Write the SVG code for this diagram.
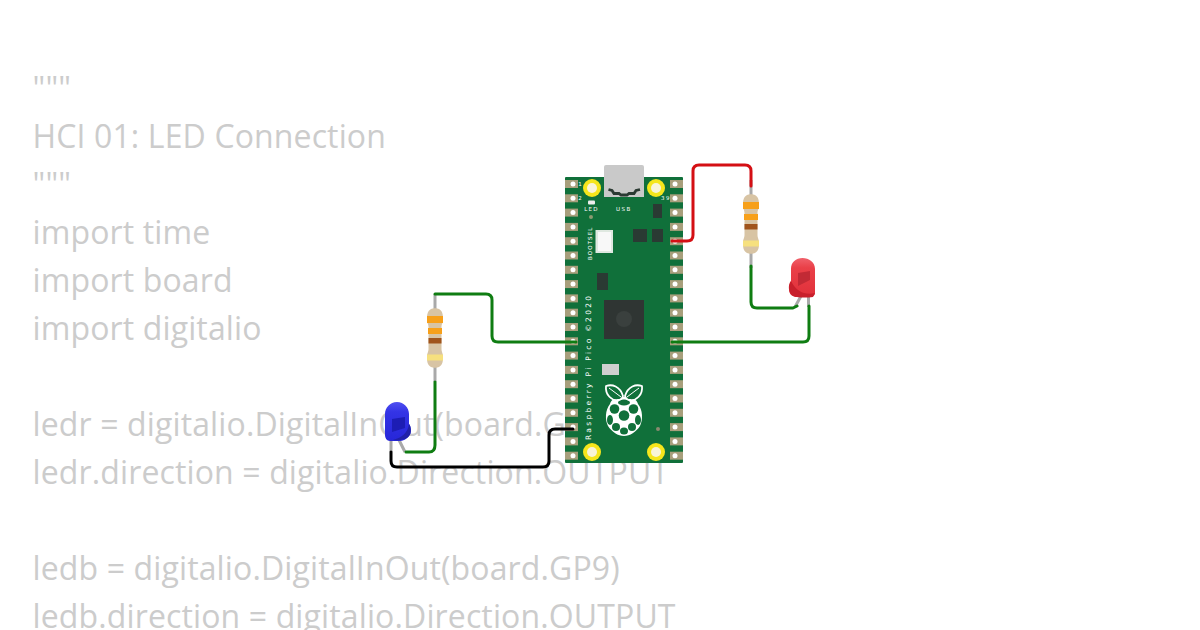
<svg xmlns="http://www.w3.org/2000/svg" width="1200" height="630" viewBox="0 0 1200 630">
<style>
.code{font-family:"Open Sans","Liberation Sans",sans-serif;font-size:32px;fill:#cccccc;letter-spacing:.13px}
.silk{font-family:"DejaVu Sans","Liberation Sans",sans-serif;fill:#ffffff}
.wire{fill:none;stroke-width:3;stroke-linejoin:round;stroke-linecap:round}
.lead{fill:none;stroke:#a9a9a9;stroke-width:3}
.hole{fill:#f5e61c;stroke:none}
.ic{fill:#2a3a33}
</style>
<defs>
<g id="pinL"><rect x="0" y="-4" width="13" height="8" fill="#a89f7c"/><circle cx="8" cy="0" r="2.500" fill="#ffffff"/></g>
<g id="pinR"><rect x="-13" y="-4" width="13" height="8" fill="#a89f7c"/><circle cx="-8" cy="0" r="2.500" fill="#ffffff"/></g>
<g id="resistor">
<path d="M0 -44V-27M0 27V44" stroke="#a9a9a9" stroke-width="3" fill="none"/>
<path d="M-4 -29C-2 -30 2 -30 4 -29C8 -27 8 -22 8 -19C8 -15 6.500 -14 6.500 -11V11C6.500 14 8 15 8 19C8 22 8 27 4 29C2 30 -2 30 -4 29C-8 27 -8 22 -8 19C-8 15 -6.500 14 -6.500 11V-11C-6.500 -14 -8 -15 -8 -19C-8 -22 -8 -27 -4 -29Z" fill="#d8c4a4"/>
<rect x="-8" y="-22" width="16" height="7" fill="#f7a01a"/>
<rect x="-7" y="-10" width="14" height="6" fill="#f7a01a"/>
<rect x="-6.500" y="0" width="13" height="5.500" fill="#a0541c"/>
<rect x="-8" y="16.500" width="16" height="6" fill="#f6e07e"/>
</g>
<linearGradient id="redDome" x1="0" y1="0" x2="0" y2="1"><stop offset="0" stop-color="#f0606a"/><stop offset=".25" stop-color="#ea4048"/><stop offset="1" stop-color="#e0303a"/></linearGradient>
<linearGradient id="blueDome" x1="0" y1="0" x2="0" y2="1"><stop offset="0" stop-color="#5050f0"/><stop offset=".25" stop-color="#3434e6"/><stop offset="1" stop-color="#2626d8"/></linearGradient>
</defs>

<g id="code" opacity=".99">
<text class="code" x="32.500" y="100">"""</text>
<text class="code" x="32.500" y="148">HCI 01: LED Connection</text>
<text class="code" x="32.500" y="196">"""</text>
<text class="code" x="32.500" y="244">import time</text>
<text class="code" x="32.500" y="292">import board</text>
<text class="code" x="32.500" y="340">import digitalio</text>
<text class="code" x="32.500" y="436">ledr = digitalio.DigitalInOut(board.GP1)</text>
<text class="code" x="32.500" y="484">ledr.direction = digitalio.Direction.OUTPUT</text>
<text class="code" x="32.500" y="580">ledb = digitalio.DigitalInOut(board.GP9)</text>
<text class="code" x="32.500" y="628">ledb.direction = digitalio.Direction.OUTPUT</text>
</g>

<g id="pico">
<rect x="565" y="177" width="118" height="286" rx="1" fill="#10703a"/>
<path d="M606 165H642Q644 165 644 167V197H604V167Q604 165 606 165Z" fill="#c9c9c9"/>
<path d="M608.500 189.500L612 190.500L614 193.500H619L621 195H627L629 193.500H634L636 190.500L640 189.500" fill="none" stroke="#2b3a33" stroke-width="2.800"/>
<g id="pins-left">
<use href="#pinL" x="565" y="184"/><use href="#pinL" x="565" y="198.300"/><use href="#pinL" x="565" y="212.600"/><use href="#pinL" x="565" y="226.900"/><use href="#pinL" x="565" y="241.200"/><use href="#pinL" x="565" y="255.500"/><use href="#pinL" x="565" y="269.800"/><use href="#pinL" x="565" y="284.100"/><use href="#pinL" x="565" y="298.400"/><use href="#pinL" x="565" y="312.700"/><use href="#pinL" x="565" y="327"/><use href="#pinL" x="565" y="341.300"/><use href="#pinL" x="565" y="355.600"/><use href="#pinL" x="565" y="369.900"/><use href="#pinL" x="565" y="384.200"/><use href="#pinL" x="565" y="398.500"/><use href="#pinL" x="565" y="412.800"/><use href="#pinL" x="565" y="427.100"/><use href="#pinL" x="565" y="441.400"/><use href="#pinL" x="565" y="455.700"/>
</g>
<g id="pins-right">
<use href="#pinR" x="683" y="184"/><use href="#pinR" x="683" y="198.300"/><use href="#pinR" x="683" y="212.600"/><use href="#pinR" x="683" y="226.900"/><use href="#pinR" x="683" y="241.200"/><use href="#pinR" x="683" y="255.500"/><use href="#pinR" x="683" y="269.800"/><use href="#pinR" x="683" y="284.100"/><use href="#pinR" x="683" y="298.400"/><use href="#pinR" x="683" y="312.700"/><use href="#pinR" x="683" y="327"/><use href="#pinR" x="683" y="341.300"/><use href="#pinR" x="683" y="355.600"/><use href="#pinR" x="683" y="369.900"/><use href="#pinR" x="683" y="384.200"/><use href="#pinR" x="683" y="398.500"/><use href="#pinR" x="683" y="412.800"/><use href="#pinR" x="683" y="427.100"/><use href="#pinR" x="683" y="441.400"/><use href="#pinR" x="683" y="455.700"/>
</g>
<circle class="hole" cx="592" cy="188" r="9"/><circle cx="592" cy="188" r="5" fill="#f8f4d8"/>
<circle class="hole" cx="656" cy="188" r="9"/><circle cx="656" cy="188" r="5" fill="#f8f4d8"/>
<circle class="hole" cx="592" cy="452" r="9"/><circle cx="592" cy="452" r="5" fill="#f8f4d8"/>
<circle class="hole" cx="656" cy="452" r="9"/><circle cx="656" cy="452" r="5" fill="#f8f4d8"/>
<rect x="588" y="200.500" width="7" height="4" rx="1" fill="#eeeeee"/>
<circle cx="591" cy="217" r="2" fill="#8a9a70"/>
<circle cx="658" cy="429" r="2" fill="#8a8a70"/>
<rect x="595.500" y="230" width="17.500" height="23" fill="#dfe8e0"/><rect x="598" y="232" width="13" height="19" fill="#f8f8f8"/>
<rect class="ic" x="653" y="204" width="9" height="14"/>
<rect class="ic" x="633" y="229" width="14" height="13"/>
<rect class="ic" x="652" y="229" width="11" height="13"/>
<rect class="ic" x="597" y="273" width="11" height="17"/>
<rect x="604" y="300" width="40" height="39" fill="#2f3533"/>
<circle cx="624" cy="319" r="8" fill="#3a403e"/>
<rect x="602" y="364" width="17" height="11" fill="#cfcfcf"/>
<text class="silk" x="580" y="186" font-size="5.500" text-anchor="middle">1</text>
<text class="silk" x="580" y="200" font-size="5.500" text-anchor="middle">2</text>
<text class="silk" x="666" y="200" font-size="5.500" text-anchor="middle" letter-spacing="1.500">39</text>
<text class="silk" x="591.500" y="211" font-size="5.500" text-anchor="middle" letter-spacing="1.300">LED</text>
<text class="silk" x="624" y="211" font-size="5.500" text-anchor="middle" letter-spacing="1.500">USB</text>
<text class="silk" font-size="5.500" letter-spacing="1.100" transform="translate(592 260) rotate(-90)">BOOTSEL</text>
<text class="silk" font-size="7.500" letter-spacing="2.300" transform="translate(591 440) rotate(-90)">Raspberry Pi Pico ©2020</text>
<g id="raspberry-logo">
<path d="M624 397C630 396 637 399 638 404C643 410 643 420 640 426C636 432 630 436 624 436C618 436 612 432 608 426C605 420 605 410 610 404C611 399 618 396 624 397Z" fill="#ffffff"/>
<g fill="#10703a">
<ellipse cx="624" cy="402.500" rx="6" ry="3"/>
<circle cx="614.500" cy="409" r="4.800"/><circle cx="633.500" cy="409" r="4.800"/>
<circle cx="624" cy="415.500" r="5.300"/>
<ellipse cx="610" cy="420" rx="3" ry="5"/><ellipse cx="638" cy="420" rx="3" ry="5"/>
<circle cx="616" cy="427" r="4"/><circle cx="632" cy="427" r="4"/>
<ellipse cx="624" cy="431" rx="4" ry="3.500"/>
</g>
<g fill="#10703a" stroke="#ffffff" stroke-width="1.800" stroke-linejoin="round">
<path d="M606 386C612 384 620 386 623 396C622 399 620 400 618 400C612 401 605 395 606 386Z"/>
<path d="M642 386C636 384 628 386 625 396C626 399 628 400 630 400C636 401 643 395 642 386Z"/>
</g>
<path d="M609 388L621 397M639 388L627 397" fill="none" stroke="#ffffff" stroke-width="1"/>
</g>
</g>

<g id="r-red" transform="translate(751 224)"><use href="#resistor"/></g>
<g id="r-blue" transform="translate(435 338)"><use href="#resistor"/></g>

<g id="led-red">
<path d="M801 296L795 307M808.500 296V307" class="lead"/>
<path d="M791 269C791 262 796 258 802.500 258C809 258 815 262 815 269V293C815 296 812 297 809 297H797C793 297 789 295 789 289C789 284 791 283 791 280Z" fill="url(#redDome)"/>
<path d="M791 281C788 284 788 292 792 295C795 298 806 298 813 297L815 293C806 295 797 293 791 281Z" fill="#c8202c"/>
<path d="M798 273L810 271V280L798 286Z" fill="#c22a35"/>
</g>
<g id="led-blue">
<path d="M391 440V452M399 440L405 452" class="lead"/>
<path d="M385 414C385 408 390 402 397 402C404 402 409 408 409 414V424C411 426 412 433 409 436C407 439 403 441 399 441H390C387 441 385 438 385 435Z" fill="url(#blueDome)"/>
<path d="M409 424C411 426 412 433 409 436C407 439 400 441 393 440C401 438 408 433 409 424Z" fill="#2020a8"/>
<path d="M392 419L405 417V428L392 432Z" fill="#1d1db4"/>
</g>

<g id="connectors">
<path class="wire" stroke="#d40f14" d="M672 241H687Q693 241 693 235V171Q693 165 699 165H745Q751 165 751 171V186"/>
<path class="wire" stroke="#0f7d12" d="M751 266V302Q751 308 757 308H793L797 306"/>
<path class="wire" stroke="#0f7d12" d="M672 342H803Q809 342 809 336V306"/>
<path class="wire" stroke="#0f7d12" d="M435 294H486Q492 294 492 300V336Q492 342 498 342H576"/>
<path class="wire" stroke="#0f7d12" d="M435 382V445Q435 452 429 452H406"/>
<path class="wire" stroke="#000000" d="M391 452V461Q391 467 397 467H543Q549 467 549 461V435Q549 429 555 429H573"/>
</g>
</svg>
